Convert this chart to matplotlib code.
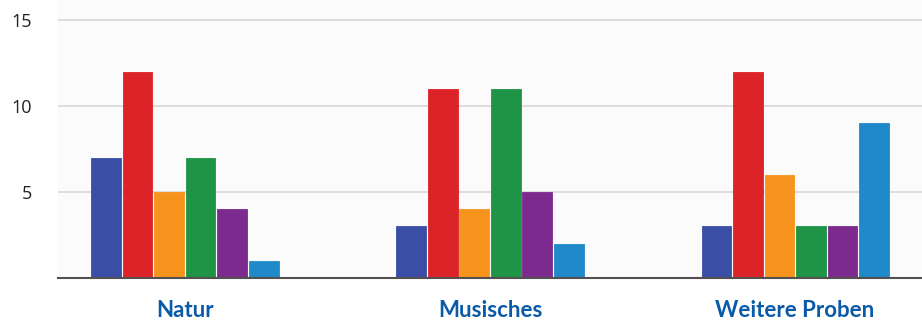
import numpy as np
import matplotlib
matplotlib.use("Agg")
import matplotlib.pyplot as plt

categories = ["Natur", "Musisches", "Weitere Proben"]
series = [
    [7, 3, 3],
    [12, 11, 12],
    [5, 4, 6],
    [7, 11, 3],
    [4, 5, 3],
    [1, 2, 9],
]
colors = ["#3b4ea6", "#dc2327", "#f7941d", "#1f9346", "#7c2a8e", "#2089c9"]
yticks = [5, 10, 15]

fig = plt.figure(figsize=(9.22, 3.23), dpi=100)
ax = fig.add_axes([58 / 922, 45 / 323, 1 - 58 / 922, 278 / 323])
ax.set_facecolor("#fcfbfb")

x = np.arange(len(categories))
step = 0.1033
width = 0.097
for i, vals in enumerate(series):
    ax.bar(x + (i - 2.5) * step, vals, width, color=colors[i],
           edgecolor=colors[i], linewidth=0.6, zorder=3)

ax.set_xlim(-0.416, 2.416)
ax.set_ylim(0, 16.16)
ax.set_yticks(yticks)
ax.set_yticklabels([str(t) for t in yticks], fontsize=13, color="#222222",
                   family="Open Sans")
ax.yaxis.grid(True, color="#ddd5d5", linewidth=1.2, zorder=0)
ax.set_xticks(x)
ax.set_xticklabels(categories, fontsize=16, fontweight="bold",
                   color="#0b5aa8", family="Lato")
ax.tick_params(axis="y", length=0, pad=19)
ax.tick_params(axis="x", length=0, pad=16)
for s in ["top", "right", "left"]:
    ax.spines[s].set_visible(False)
ax.spines["bottom"].set_color("#555050")
ax.spines["bottom"].set_linewidth(1.5)
ax.spines["bottom"].set_zorder(4)

fig.savefig("out.png", dpi=100)
